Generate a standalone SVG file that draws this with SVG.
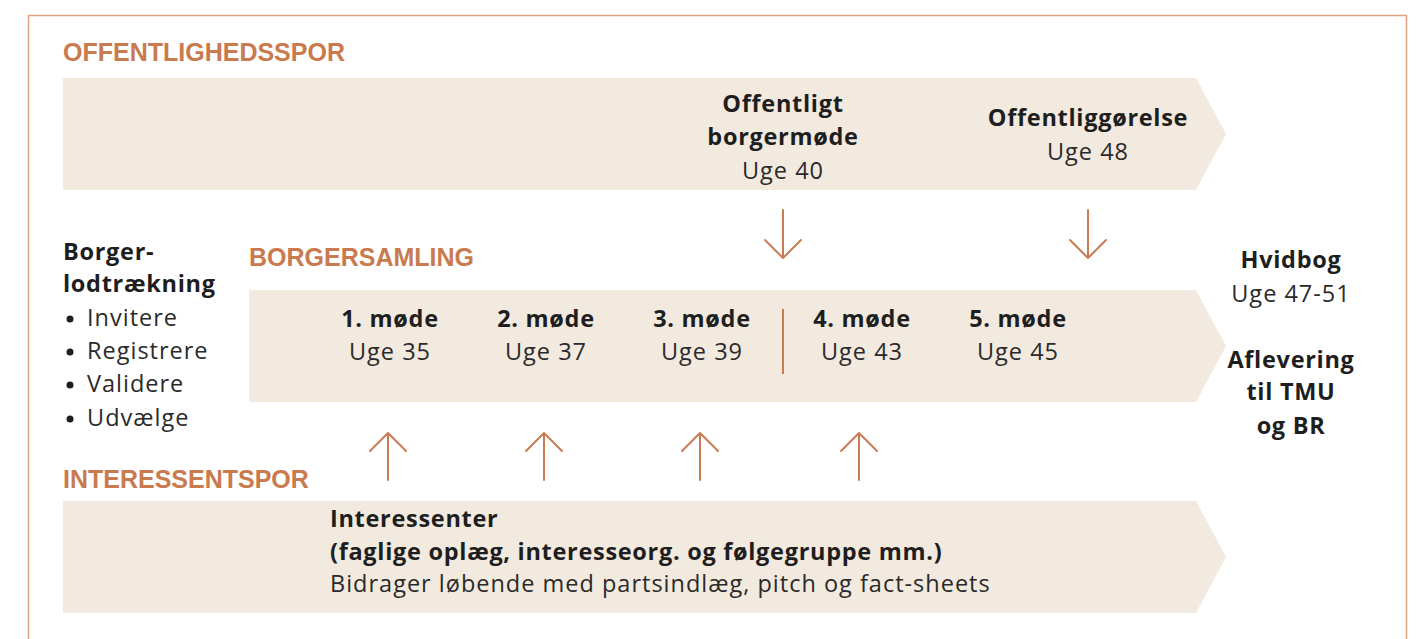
<svg xmlns="http://www.w3.org/2000/svg" width="1426" height="639" viewBox="0 0 1426 639">
<defs>
<style>
.band{fill:#F2E9DF}
.head{font-family:"Liberation Sans",Arial,sans-serif;font-weight:700;font-size:25px;fill:#C97A4F}
.b{font-family:"Open Sans","Liberation Sans",sans-serif;font-weight:700;font-size:23.5px;letter-spacing:0.7px;fill:#1E1E1E}
.r{font-family:"Open Sans","Liberation Sans",sans-serif;font-weight:400;font-size:23.5px;letter-spacing:1px;fill:#2A2A2A}
.c{text-anchor:middle}
.arr{fill:none;stroke:#CB7B52;stroke-width:2;stroke-linecap:round;stroke-linejoin:round}
</style>
</defs>
<rect width="1426" height="639" fill="#FFFFFF"/>
<path d="M28.5,645 V15.5 H1406.5 V645" fill="none" stroke="#DFA384" stroke-width="1.5"/>

<g id="offentlighedsspor">
<text class="head" x="63" y="61">OFFENTLIGHEDSSPOR</text>
<polygon class="band" points="63,78 1196,78 1226,134 1196,190 63,190"/>
</g>
<g id="borgermoede-offentligt">
<text class="b c" x="783" y="112">Offentligt</text>
<text class="b c" x="783" y="145">borgermøde</text>
<text class="r c" x="783" y="179">Uge 40</text>
</g>
<g id="offentliggoerelse">
<text class="b c" x="1088" y="126">Offentliggørelse</text>
<text class="r c" x="1088" y="160">Uge 48</text>
</g>

<g id="borgerlodtraekning">
<text class="b" x="63" y="260">Borger-</text>
<text class="b" x="63" y="292">lodtrækning</text>
<circle cx="70" cy="319" r="3.5" fill="#1E1E1E"/>
<text class="r" x="87" y="326">Invitere</text>
<circle cx="70" cy="352" r="3.5" fill="#1E1E1E"/>
<text class="r" x="87" y="359">Registrere</text>
<circle cx="70" cy="385" r="3.5" fill="#1E1E1E"/>
<text class="r" x="87" y="392">Validere</text>
<circle cx="70" cy="419" r="3.5" fill="#1E1E1E"/>
<text class="r" x="87" y="426">Udvælge</text>
</g>

<g id="borgersamling">
<text class="head" x="249" y="266">BORGERSAMLING</text>
<polygon class="band" points="249,290 1196,290 1226,346 1196,402 249,402"/>
<line x1="783" y1="309" x2="783" y2="374" stroke="#CB7B52" stroke-width="2"/>
</g>
<g id="moede1"><text class="b c" x="390" y="327">1. møde</text><text class="r c" x="390" y="360">Uge 35</text></g>
<g id="moede2"><text class="b c" x="546" y="327">2. møde</text><text class="r c" x="546" y="360">Uge 37</text></g>
<g id="moede3"><text class="b c" x="702" y="327">3. møde</text><text class="r c" x="702" y="360">Uge 39</text></g>
<g id="moede4"><text class="b c" x="862" y="327">4. møde</text><text class="r c" x="862" y="360">Uge 43</text></g>
<g id="moede5"><text class="b c" x="1018" y="327">5. møde</text><text class="r c" x="1018" y="360">Uge 45</text></g>

<g id="hvidbog">
<text class="b c" x="1291" y="268">Hvidbog</text>
<text class="r c" x="1291" y="302">Uge 47-51</text>
</g>
<g id="aflevering">
<text class="b c" x="1291" y="368">Aflevering</text>
<text class="b c" x="1291" y="400">til TMU</text>
<text class="b c" x="1291" y="434">og BR</text>
</g>

<g id="interessentspor">
<text class="head" x="63" y="488">INTERESSENTSPOR</text>
<polygon class="band" points="63,501 1196,501 1226,557 1196,613 63,613"/>
<text class="b" x="330" y="527">Interessenter</text>
<text class="b" x="330" y="560">(faglige oplæg, interesseorg. og følgegruppe mm.)</text>
<text class="r" x="330" y="592">Bidrager løbende med partsindlæg, pitch og fact-sheets</text>
</g>

<g id="connectors">
<path class="arr" d="M783,210 V258 M765,240 L783,258 L801,240"/>
<path class="arr" d="M1088,210 V258 M1070,240 L1088,258 L1106,240"/>
<path class="arr" d="M388,480 V433 M370,451 L388,433 L406,451"/>
<path class="arr" d="M544,480 V433 M526,451 L544,433 L562,451"/>
<path class="arr" d="M700,480 V433 M682,451 L700,433 L718,451"/>
<path class="arr" d="M859,480 V433 M841,451 L859,433 L877,451"/>
</g>
</svg>
